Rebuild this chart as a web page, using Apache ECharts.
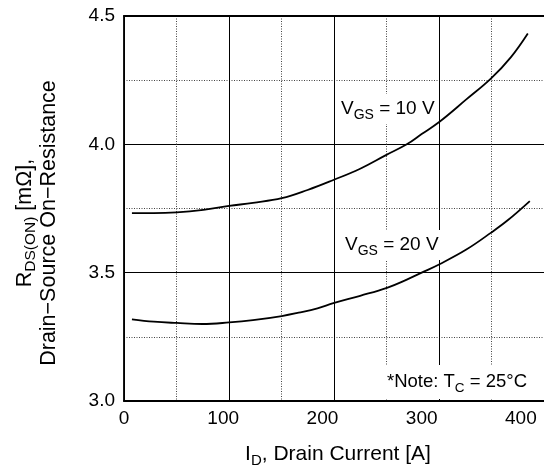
<!DOCTYPE html>
<html>
<head>
<meta charset="utf-8">
<script src="https://cdn.jsdelivr.net/npm/echarts/dist/echarts.min.js"></script>
<style>
  html, body { margin: 0; padding: 0; background: #fff; }
  #chart { width: 544px; height: 472px; }
</style>
</head>
<body>
<div id="chart"></div>
<script>
// I_D [A] vs R_DS(ON) [mOhm]
var idVgs10 = [8, 30, 53, 80, 106, 130, 159, 185, 211, 238, 264, 285, 300, 318, 345, 370, 390, 407];
var rVgs10 = [3.732, 3.732, 3.735, 3.745, 3.760, 3.772, 3.790, 3.822, 3.861, 3.905, 3.958, 4.000, 4.040, 4.088, 4.175, 4.257, 4.340, 4.432];

var idVgs20 = [8, 30, 53, 79, 106, 130, 159, 176, 195, 211, 238, 265, 285, 300, 318, 345, 370, 387, 409];
var rVgs20 = [3.318, 3.309, 3.304, 3.300, 3.306, 3.315, 3.331, 3.344, 3.361, 3.381, 3.410, 3.441, 3.473, 3.500, 3.533, 3.590, 3.656, 3.705, 3.779];

var xTicks = [0, 100, 200, 300, 400];
var yTicks = [3.0, 3.5, 4.0, 4.5];

var font = 'Liberation Sans, Arial, Helvetica, sans-serif';

function pairs(xs, ys) {
  return xs.map(function(x, i) { return [x, ys[i]]; });
}

var myChart = echarts.init(document.getElementById('chart'));
var option = {
  backgroundColor: '#fff',
  animation: false,
  grid: { left: 124, right: -4, top: 16, bottom: 71, containLabel: false },
  xAxis: [{
      // axis that carries the current scale + tick labels
      type: 'value',
      position: 'bottom',
      min: 0,
      max: 423.3,
      interval: 100,
      axisLine: { show: true, lineStyle: { color: '#000', width: 1.8 } },
      axisTick: { show: false },
      splitLine: { show: false },
      axisLabel: {
        color: '#000', fontSize: 19, fontFamily: font, margin: 8,
        showMaxLabel: false,
        formatter: function(v) { return xTicks.indexOf(v) >= 0 ? String(v) : ''; }
      }
    },
    {
      // grid divisions of the plot (they don't line up with the labels)
      type: 'value',
      position: 'top',
      min: 0,
      max: 8,
      interval: 2,
      axisLine: { show: true, lineStyle: { color: '#000', width: 1.8 } },
      axisTick: { show: false },
      axisLabel: { show: false },
      splitLine: { show: true, lineStyle: { color: '#000', width: 1 } },
      minorTick: { show: false, splitNumber: 2 },
      minorSplitLine: { show: true, lineStyle: { color: '#444', width: 1, type: [1, 1.5] } }
    }
  ],
  yAxis: {
    type: 'value',
    min: 3.0,
    max: 4.5,
    interval: 0.5,
    axisLine: { show: true, lineStyle: { color: '#000', width: 1.8 } },
    axisTick: { show: false },
    axisLabel: {
      color: '#000', fontSize: 19, fontFamily: font, margin: 9,
      formatter: function(v) { return v.toFixed(1); }
    },
    splitLine: { show: true, lineStyle: { color: '#000', width: 1 } },
    minorTick: { show: false, splitNumber: 2 },
    minorSplitLine: { show: true, lineStyle: { color: '#444', width: 1, type: [1, 1.5] } }
  },
  series: [{
      name: 'VGS = 10 V',
      type: 'line',
      xAxisIndex: 0,
      smooth: 0.4,
      symbol: 'none',
      lineStyle: { color: '#000', width: 1.8 },
      data: pairs(idVgs10, rVgs10)
    },
    {
      name: 'VGS = 20 V',
      type: 'line',
      xAxisIndex: 0,
      smooth: 0.4,
      symbol: 'none',
      lineStyle: { color: '#000', width: 1.8 },
      data: pairs(idVgs20, rVgs20)
    }
  ],
  graphic: [{
      type: 'text', x: 338, y: 109, z: 1,
      style: {
        text: '{m|V}{s|GS}{m| = 10 V}',
        align: 'left', verticalAlign: 'middle',
        backgroundColor: '#fff', padding: [2, 3],
        rich: {
          m: { fontSize: 19, fontFamily: font, fill: '#000' },
          s: { fontSize: 14, fontFamily: font, fill: '#000', padding: [12, 0, 0, 0] }
        }
      }
    },
    {
      type: 'text', x: 342, y: 245, z: 1,
      style: {
        text: '{m|V}{s|GS}{m| = 20 V}',
        align: 'left', verticalAlign: 'middle',
        backgroundColor: '#fff', padding: [2, 3],
        rich: {
          m: { fontSize: 19, fontFamily: font, fill: '#000' },
          s: { fontSize: 14, fontFamily: font, fill: '#000', padding: [12, 0, 0, 0] }
        }
      }
    },
    {
      type: 'text', x: 384, y: 382, z: 1,
      style: {
        text: '{m|*Note: T}{s|C}{m| = 25°C}',
        align: 'left', verticalAlign: 'middle',
        backgroundColor: '#fff', padding: [4, 3],
        rich: {
          m: { fontSize: 18.5, fontFamily: font, fill: '#000' },
          s: { fontSize: 13.5, fontFamily: font, fill: '#000', padding: [12, 0, 0, 0] }
        }
      }
    },
    {
      // x axis title
      type: 'text', x: 338, y: 454,
      style: {
        text: '{m|I}{s|D}{m|, Drain Current [A]}',
        align: 'center', verticalAlign: 'middle',
        rich: {
          m: { fontSize: 21, fontFamily: font, fill: '#000' },
          s: { fontSize: 15, fontFamily: font, fill: '#000', padding: [13, 0, 0, 0] }
        }
      }
    },
    {
      // y axis title, two lines
      type: 'text', x: 37, y: 223, rotation: Math.PI / 2,
      style: {
        text: '{m|R}{s|DS(ON)}{m| [mΩ],}\n{m|Drain−Source On−Resistance}',
        align: 'center', verticalAlign: 'middle',
        rich: {
          m: { fontSize: 21.5, fontFamily: font, fill: '#000', lineHeight: 24, align: 'center' },
          s: { fontSize: 15.5, fontFamily: font, fill: '#000', lineHeight: 24, padding: [12, 0, 0, 0] }
        }
      }
    }
  ]
};
myChart.setOption(option);
</script>
</body>
</html>
